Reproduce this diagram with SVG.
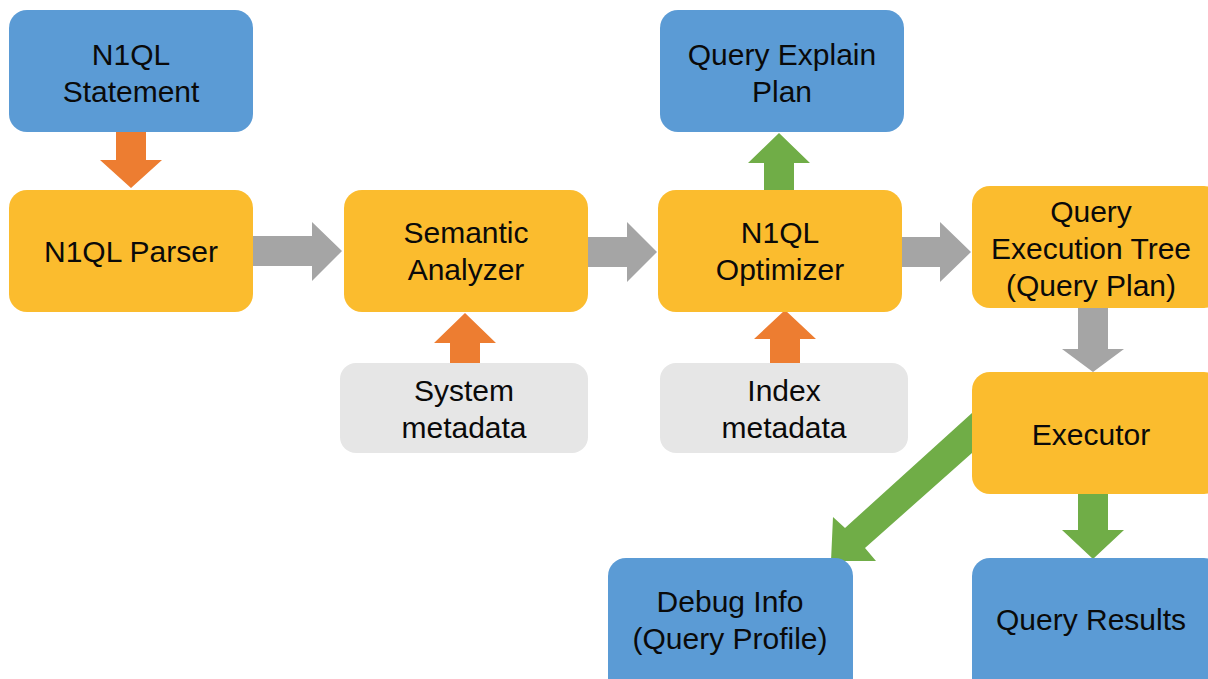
<svg xmlns="http://www.w3.org/2000/svg" width="1208" height="679" viewBox="0 0 1208 679">
<style>
.blue{fill:#5B9BD5}
.gold{fill:#FBBC2E}
.grey{fill:#E6E6E6}
.t{font-family:"Liberation Sans",Arial,sans-serif;font-size:30px;fill:#0a0a0a;text-anchor:middle}
.ao{fill:#ED7D31}
.ag{fill:#A5A5A5}
.agr{fill:#70AD47}
</style>
<rect width="1208" height="679" fill="#ffffff"/>
<g id="connectors">
  <polygon class="ao" points="116,132 146,132 146,160 162,160 131,188 100,160 116,160"/>
  <polygon class="ag" points="253,236 312,236 312,222 342,251 312,281 312,266 253,266"/>
  <polygon class="ag" points="588,237 627,237 627,222 657,252 627,282 627,267 588,267"/>
  <polygon class="ag" points="902,237 940,237 940,222 971,252 940,282 940,267 902,267"/>
  <polygon class="agr" points="764,190 794,190 794,163 810,163 779,133 748,163 764,163"/>
  <polygon class="ao" points="450,363 480,363 480,343 496,343 465,313 434,343 450,343"/>
  <polygon class="ao" points="770,363 800,363 800,339 816,339 785,310 754,339 770,339"/>
  <polygon class="ag" points="1078,308 1108,308 1108,349 1124,349 1093,372 1062,349 1078,349"/>
  <polygon class="agr" points="1078,494 1108,494 1108,530 1124,530 1093,559 1062,530 1078,530"/>
  <polygon class="agr" points="972,413 972,453 865,548 876,561 831,561 833,517 845,528"/>
</g>
<g id="n1ql-statement">
  <rect class="blue" x="9" y="10" width="244" height="122" rx="18"/>
  <text class="t" x="131" y="65">N1QL</text>
  <text class="t" x="131" y="102">Statement</text>
</g>
<g id="n1ql-parser">
  <rect class="gold" x="9" y="190" width="244" height="122" rx="18"/>
  <text class="t" x="131" y="262">N1QL Parser</text>
</g>
<g id="semantic-analyzer">
  <rect class="gold" x="344" y="190" width="244" height="122" rx="18"/>
  <text class="t" x="466" y="243">Semantic</text>
  <text class="t" x="466" y="280">Analyzer</text>
</g>
<g id="n1ql-optimizer">
  <rect class="gold" x="658" y="190" width="244" height="122" rx="18"/>
  <text class="t" x="780" y="243">N1QL</text>
  <text class="t" x="780" y="280">Optimizer</text>
</g>
<g id="query-explain-plan">
  <rect class="blue" x="660" y="10" width="244" height="122" rx="18"/>
  <text class="t" x="782" y="65">Query Explain</text>
  <text class="t" x="782" y="102">Plan</text>
</g>
<g id="query-execution-tree">
  <rect class="gold" x="972" y="186" width="250" height="122" rx="18"/>
  <text class="t" x="1091" y="222">Query</text>
  <text class="t" x="1091" y="259">Execution Tree</text>
  <text class="t" x="1091" y="296">(Query Plan)</text>
</g>
<g id="system-metadata">
  <rect class="grey" x="340" y="363" width="248" height="90" rx="16"/>
  <text class="t" x="464" y="401">System</text>
  <text class="t" x="464" y="438">metadata</text>
</g>
<g id="index-metadata">
  <rect class="grey" x="660" y="363" width="248" height="90" rx="16"/>
  <text class="t" x="784" y="401">Index</text>
  <text class="t" x="784" y="438">metadata</text>
</g>
<g id="executor">
  <rect class="gold" x="972" y="372" width="250" height="122" rx="18"/>
  <text class="t" x="1091" y="445">Executor</text>
</g>
<g id="debug-info">
  <rect class="blue" x="608" y="558" width="245" height="140" rx="18"/>
  <text class="t" x="730" y="612">Debug Info</text>
  <text class="t" x="730" y="649">(Query Profile)</text>
</g>
<g id="query-results">
  <rect class="blue" x="972" y="558" width="250" height="140" rx="18"/>
  <text class="t" x="1091" y="630">Query Results</text>
</g>
</svg>
